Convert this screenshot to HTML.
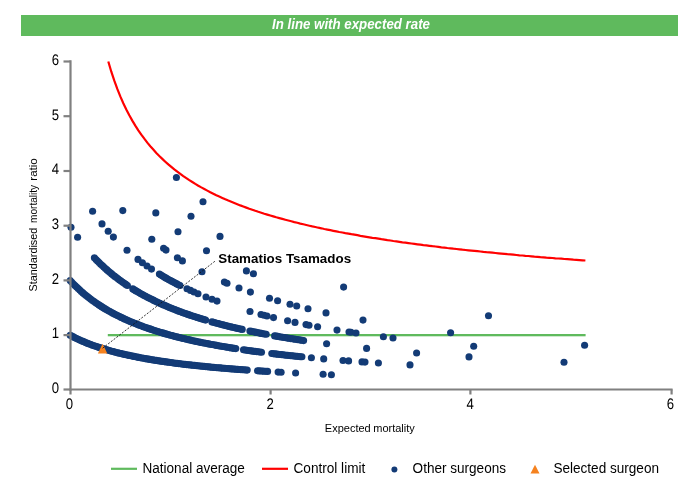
<!DOCTYPE html>
<html><head><meta charset="utf-8"><title>In line with expected rate</title>
<style>
html,body{margin:0;padding:0;background:#fff;}
body{width:700px;height:500px;overflow:hidden;font-family:"Liberation Sans",Arial,sans-serif;}
svg{display:block;}
text{font-family:"Liberation Sans",Arial,sans-serif;fill:#000;}
</style></head><body>
<svg width="700" height="500" viewBox="0 0 700 500">
<rect x="0" y="0" width="700" height="500" fill="#fff"/>
<rect x="21" y="15" width="657" height="21" fill="#5fba5d"/>
<text x="351" y="28.6" text-anchor="middle" font-size="14" font-weight="bold" font-style="italic" style="fill:#fff" textLength="158" lengthAdjust="spacingAndGlyphs">In line with expected rate</text>
<g font-size="15.3" text-rendering="geometricPrecision"><text transform="translate(59.0,393.1) scale(0.86,1)" text-anchor="end">0</text><text transform="translate(59.0,338.4) scale(0.86,1)" text-anchor="end">1</text><text transform="translate(59.0,283.7) scale(0.86,1)" text-anchor="end">2</text><text transform="translate(59.0,229.1) scale(0.86,1)" text-anchor="end">3</text><text transform="translate(59.0,174.4) scale(0.86,1)" text-anchor="end">4</text><text transform="translate(59.0,119.7) scale(0.86,1)" text-anchor="end">5</text><text transform="translate(59.0,65.0) scale(0.86,1)" text-anchor="end">6</text><text transform="translate(69.5,409.3) scale(0.86,1)" text-anchor="middle">0</text><text transform="translate(270.1,409.3) scale(0.86,1)" text-anchor="middle">2</text><text transform="translate(470.1,409.3) scale(0.86,1)" text-anchor="middle">4</text><text transform="translate(670.5,409.3) scale(0.86,1)" text-anchor="middle">6</text></g>
<rect x="107.8" y="334" width="477.8" height="2.3" fill="#5fba5d"/>
<path d="M108.3 61.5 L111.3 71.7 L114.3 80.7 L117.3 88.9 L120.3 96.4 L123.3 103.2 L126.3 109.5 L129.3 115.3 L132.3 120.6 L135.3 125.6 L138.3 130.3 L141.3 134.6 L144.3 138.7 L147.3 142.6 L150.3 146.2 L153.3 149.6 L156.3 152.9 L159.3 156.0 L162.3 158.9 L165.3 161.7 L168.3 164.4 L171.3 166.9 L174.3 169.4 L177.3 171.7 L180.3 173.9 L183.3 176.1 L186.3 178.1 L189.3 180.1 L192.3 182.0 L195.3 183.9 L198.3 185.7 L201.3 187.4 L204.3 189.0 L207.3 190.6 L210.3 192.2 L213.3 193.7 L216.3 195.2 L219.3 196.6 L222.3 197.9 L225.3 199.3 L228.3 200.6 L231.3 201.8 L234.3 203.0 L237.3 204.2 L240.3 205.4 L243.3 206.5 L246.3 207.6 L249.3 208.7 L252.3 209.7 L255.3 210.8 L258.3 211.8 L261.3 212.7 L264.3 213.7 L267.3 214.6 L270.3 215.5 L273.3 216.4 L276.3 217.3 L279.3 218.1 L282.3 218.9 L285.3 219.7 L288.3 220.5 L291.3 221.3 L294.3 222.1 L297.3 222.8 L300.3 223.6 L303.3 224.3 L306.3 225.0 L309.3 225.7 L312.3 226.4 L315.3 227.0 L318.3 227.7 L321.3 228.3 L324.3 229.0 L327.3 229.6 L330.3 230.2 L333.3 230.8 L336.3 231.4 L339.3 232.0 L342.3 232.5 L345.3 233.1 L348.4 233.6 L351.4 234.2 L354.4 234.7 L357.4 235.2 L360.4 235.8 L363.4 236.3 L366.4 236.8 L369.4 237.3 L372.4 237.8 L375.4 238.2 L378.4 238.7 L381.4 239.2 L384.4 239.6 L387.4 240.1 L390.4 240.5 L393.4 241.0 L396.4 241.4 L399.4 241.8 L402.4 242.3 L405.4 242.7 L408.4 243.1 L411.4 243.5 L414.4 243.9 L417.4 244.3 L420.4 244.7 L423.4 245.1 L426.4 245.4 L429.4 245.8 L432.4 246.2 L435.4 246.5 L438.4 246.9 L441.4 247.3 L444.4 247.6 L447.4 248.0 L450.4 248.3 L453.4 248.7 L456.4 249.0 L459.4 249.3 L462.4 249.7 L465.4 250.0 L468.4 250.3 L471.4 250.6 L474.4 250.9 L477.4 251.2 L480.4 251.5 L483.4 251.9 L486.4 252.2 L489.4 252.4 L492.4 252.7 L495.4 253.0 L498.4 253.3 L501.4 253.6 L504.4 253.9 L507.4 254.2 L510.4 254.4 L513.4 254.7 L516.4 255.0 L519.4 255.3 L522.4 255.5 L525.4 255.8 L528.4 256.0 L531.4 256.3 L534.4 256.6 L537.4 256.8 L540.4 257.1 L543.4 257.3 L546.4 257.6 L549.4 257.8 L552.4 258.0 L555.4 258.3 L558.4 258.5 L561.4 258.7 L564.4 259.0 L567.4 259.2 L570.4 259.4 L573.4 259.7 L576.4 259.9 L579.4 260.1 L582.4 260.3 L585.4 260.5" fill="none" stroke="#ff0000" stroke-width="2.2" stroke-linejoin="round"/>
<g fill="#133b76"><circle cx="176.4" cy="177.5" r="3.55"/><circle cx="203.0" cy="201.7" r="3.55"/><circle cx="191.0" cy="216.3" r="3.55"/><circle cx="220.0" cy="236.4" r="3.55"/><circle cx="343.6" cy="287.1" r="3.55"/><circle cx="488.5" cy="315.8" r="3.55"/><circle cx="155.8" cy="212.9" r="3.55"/><circle cx="178.0" cy="231.8" r="3.55"/><circle cx="206.5" cy="250.8" r="3.55"/><circle cx="246.4" cy="270.9" r="3.55"/><circle cx="253.4" cy="273.8" r="3.55"/><circle cx="122.8" cy="210.6" r="3.55"/><circle cx="151.8" cy="239.2" r="3.55"/><circle cx="163.6" cy="248.3" r="3.55"/><circle cx="166.0" cy="250.1" r="3.55"/><circle cx="177.4" cy="257.7" r="3.55"/><circle cx="182.4" cy="260.9" r="3.55"/><circle cx="202.0" cy="271.7" r="3.55"/><circle cx="224.4" cy="282.1" r="3.55"/><circle cx="227.0" cy="283.2" r="3.55"/><circle cx="239.0" cy="288.0" r="3.55"/><circle cx="250.4" cy="292.1" r="3.55"/><circle cx="269.5" cy="298.3" r="3.55"/><circle cx="277.6" cy="300.7" r="3.55"/><circle cx="290.0" cy="304.2" r="3.55"/><circle cx="296.7" cy="306.0" r="3.55"/><circle cx="308.0" cy="308.8" r="3.55"/><circle cx="326.0" cy="312.9" r="3.55"/><circle cx="363.0" cy="320.1" r="3.55"/><circle cx="450.6" cy="332.8" r="3.55"/><circle cx="584.6" cy="345.2" r="3.55"/><circle cx="92.6" cy="211.2" r="3.55"/><circle cx="102.0" cy="223.9" r="3.55"/><circle cx="108.2" cy="231.3" r="3.55"/><circle cx="113.4" cy="237.1" r="3.55"/><circle cx="127.0" cy="250.3" r="3.55"/><circle cx="138.0" cy="259.4" r="3.55"/><circle cx="142.4" cy="262.7" r="3.55"/><circle cx="147.0" cy="266.0" r="3.55"/><circle cx="151.5" cy="269.1" r="3.55"/><circle cx="187.0" cy="288.8" r="3.55"/><circle cx="190.5" cy="290.4" r="3.55"/><circle cx="194.0" cy="292.0" r="3.55"/><circle cx="198.0" cy="293.7" r="3.55"/><circle cx="206.0" cy="297.0" r="3.55"/><circle cx="212.0" cy="299.3" r="3.55"/><circle cx="217.0" cy="301.1" r="3.55"/><circle cx="250.0" cy="311.5" r="3.55"/><circle cx="261.0" cy="314.5" r="3.55"/><circle cx="264.0" cy="315.3" r="3.55"/><circle cx="267.0" cy="316.0" r="3.55"/><circle cx="273.5" cy="317.6" r="3.55"/><circle cx="287.6" cy="320.8" r="3.55"/><circle cx="295.0" cy="322.4" r="3.55"/><circle cx="306.0" cy="324.6" r="3.55"/><circle cx="309.0" cy="325.2" r="3.55"/><circle cx="317.6" cy="326.8" r="3.55"/><circle cx="337.0" cy="330.1" r="3.55"/><circle cx="349.0" cy="332.0" r="3.55"/><circle cx="351.0" cy="332.3" r="3.55"/><circle cx="356.0" cy="333.0" r="3.55"/><circle cx="383.4" cy="336.8" r="3.55"/><circle cx="393.0" cy="338.0" r="3.55"/><circle cx="473.7" cy="346.3" r="3.55"/><circle cx="71.0" cy="227.3" r="3.55"/><circle cx="77.6" cy="237.2" r="3.55"/><circle cx="326.6" cy="343.7" r="3.55"/><circle cx="366.6" cy="348.4" r="3.55"/><circle cx="416.6" cy="353.0" r="3.55"/><circle cx="469.0" cy="356.9" r="3.55"/><circle cx="564.0" cy="362.2" r="3.55"/><circle cx="311.4" cy="357.7" r="3.55"/><circle cx="323.7" cy="358.9" r="3.55"/><circle cx="343.0" cy="360.5" r="3.55"/><circle cx="348.6" cy="360.9" r="3.55"/><circle cx="362.0" cy="361.9" r="3.55"/><circle cx="365.0" cy="362.1" r="3.55"/><circle cx="378.4" cy="363.0" r="3.55"/><circle cx="410.0" cy="364.9" r="3.55"/><circle cx="278.1" cy="372.1" r="3.55"/><circle cx="281.1" cy="372.2" r="3.55"/><circle cx="295.6" cy="373.0" r="3.55"/><circle cx="323.1" cy="374.3" r="3.55"/><circle cx="331.4" cy="374.7" r="3.55"/><circle cx="159.4" cy="274.1" r="3.55"/><circle cx="161.0" cy="275.1" r="3.55"/><circle cx="162.6" cy="276.0" r="3.55"/><circle cx="164.2" cy="277.0" r="3.55"/><circle cx="165.7" cy="277.9" r="3.55"/><circle cx="167.3" cy="278.8" r="3.55"/><circle cx="168.9" cy="279.7" r="3.55"/><circle cx="170.5" cy="280.5" r="3.55"/><circle cx="172.1" cy="281.4" r="3.55"/><circle cx="173.7" cy="282.2" r="3.55"/><circle cx="175.2" cy="283.1" r="3.55"/><circle cx="176.8" cy="283.9" r="3.55"/><circle cx="178.4" cy="284.7" r="3.55"/><circle cx="180.0" cy="285.5" r="3.55"/><circle cx="94.4" cy="257.8" r="3.55"/><circle cx="96.0" cy="259.5" r="3.55"/><circle cx="97.5" cy="261.1" r="3.55"/><circle cx="99.1" cy="262.6" r="3.55"/><circle cx="100.7" cy="264.2" r="3.55"/><circle cx="102.3" cy="265.6" r="3.55"/><circle cx="103.8" cy="267.1" r="3.55"/><circle cx="105.4" cy="268.5" r="3.55"/><circle cx="107.0" cy="269.9" r="3.55"/><circle cx="108.5" cy="271.3" r="3.55"/><circle cx="110.1" cy="272.6" r="3.55"/><circle cx="111.7" cy="273.9" r="3.55"/><circle cx="113.3" cy="275.2" r="3.55"/><circle cx="114.8" cy="276.4" r="3.55"/><circle cx="116.4" cy="277.6" r="3.55"/><circle cx="118.0" cy="278.8" r="3.55"/><circle cx="119.5" cy="280.0" r="3.55"/><circle cx="121.1" cy="281.1" r="3.55"/><circle cx="122.7" cy="282.2" r="3.55"/><circle cx="124.3" cy="283.3" r="3.55"/><circle cx="125.8" cy="284.4" r="3.55"/><circle cx="127.4" cy="285.5" r="3.55"/><circle cx="132.8" cy="288.9" r="3.55"/><circle cx="134.4" cy="289.9" r="3.55"/><circle cx="136.0" cy="290.9" r="3.55"/><circle cx="137.7" cy="291.8" r="3.55"/><circle cx="139.3" cy="292.8" r="3.55"/><circle cx="140.9" cy="293.7" r="3.55"/><circle cx="142.5" cy="294.6" r="3.55"/><circle cx="144.1" cy="295.5" r="3.55"/><circle cx="145.7" cy="296.3" r="3.55"/><circle cx="147.4" cy="297.2" r="3.55"/><circle cx="149.0" cy="298.0" r="3.55"/><circle cx="150.6" cy="298.8" r="3.55"/><circle cx="152.2" cy="299.6" r="3.55"/><circle cx="153.8" cy="300.4" r="3.55"/><circle cx="155.4" cy="301.2" r="3.55"/><circle cx="157.1" cy="302.0" r="3.55"/><circle cx="158.7" cy="302.7" r="3.55"/><circle cx="160.3" cy="303.5" r="3.55"/><circle cx="161.9" cy="304.2" r="3.55"/><circle cx="163.5" cy="304.9" r="3.55"/><circle cx="165.2" cy="305.6" r="3.55"/><circle cx="166.8" cy="306.3" r="3.55"/><circle cx="168.4" cy="307.0" r="3.55"/><circle cx="170.0" cy="307.7" r="3.55"/><circle cx="171.6" cy="308.3" r="3.55"/><circle cx="173.2" cy="309.0" r="3.55"/><circle cx="174.9" cy="309.6" r="3.55"/><circle cx="176.5" cy="310.2" r="3.55"/><circle cx="178.1" cy="310.9" r="3.55"/><circle cx="179.7" cy="311.5" r="3.55"/><circle cx="181.3" cy="312.1" r="3.55"/><circle cx="183.0" cy="312.7" r="3.55"/><circle cx="184.6" cy="313.2" r="3.55"/><circle cx="186.2" cy="313.8" r="3.55"/><circle cx="187.8" cy="314.4" r="3.55"/><circle cx="189.4" cy="314.9" r="3.55"/><circle cx="191.0" cy="315.5" r="3.55"/><circle cx="192.7" cy="316.0" r="3.55"/><circle cx="194.3" cy="316.5" r="3.55"/><circle cx="195.9" cy="317.1" r="3.55"/><circle cx="197.5" cy="317.6" r="3.55"/><circle cx="199.1" cy="318.1" r="3.55"/><circle cx="200.7" cy="318.6" r="3.55"/><circle cx="202.4" cy="319.1" r="3.55"/><circle cx="204.0" cy="319.6" r="3.55"/><circle cx="205.6" cy="320.1" r="3.55"/><circle cx="211.9" cy="321.9" r="3.55"/><circle cx="213.5" cy="322.3" r="3.55"/><circle cx="215.1" cy="322.8" r="3.55"/><circle cx="216.7" cy="323.2" r="3.55"/><circle cx="218.3" cy="323.6" r="3.55"/><circle cx="219.9" cy="324.0" r="3.55"/><circle cx="221.5" cy="324.5" r="3.55"/><circle cx="223.1" cy="324.9" r="3.55"/><circle cx="224.7" cy="325.3" r="3.55"/><circle cx="226.3" cy="325.7" r="3.55"/><circle cx="227.8" cy="326.1" r="3.55"/><circle cx="229.4" cy="326.5" r="3.55"/><circle cx="231.0" cy="326.9" r="3.55"/><circle cx="232.6" cy="327.2" r="3.55"/><circle cx="234.2" cy="327.6" r="3.55"/><circle cx="235.8" cy="328.0" r="3.55"/><circle cx="237.4" cy="328.4" r="3.55"/><circle cx="239.0" cy="328.7" r="3.55"/><circle cx="240.6" cy="329.1" r="3.55"/><circle cx="242.2" cy="329.4" r="3.55"/><circle cx="249.9" cy="331.1" r="3.55"/><circle cx="251.5" cy="331.4" r="3.55"/><circle cx="253.2" cy="331.8" r="3.55"/><circle cx="254.8" cy="332.1" r="3.55"/><circle cx="256.4" cy="332.4" r="3.55"/><circle cx="258.1" cy="332.8" r="3.55"/><circle cx="259.7" cy="333.1" r="3.55"/><circle cx="261.3" cy="333.4" r="3.55"/><circle cx="262.9" cy="333.7" r="3.55"/><circle cx="264.6" cy="334.0" r="3.55"/><circle cx="266.2" cy="334.3" r="3.55"/><circle cx="274.6" cy="335.9" r="3.55"/><circle cx="276.2" cy="336.1" r="3.55"/><circle cx="277.8" cy="336.4" r="3.55"/><circle cx="279.4" cy="336.7" r="3.55"/><circle cx="281.0" cy="337.0" r="3.55"/><circle cx="282.7" cy="337.3" r="3.55"/><circle cx="284.3" cy="337.5" r="3.55"/><circle cx="285.9" cy="337.8" r="3.55"/><circle cx="287.5" cy="338.1" r="3.55"/><circle cx="289.1" cy="338.3" r="3.55"/><circle cx="290.7" cy="338.6" r="3.55"/><circle cx="292.3" cy="338.8" r="3.55"/><circle cx="293.9" cy="339.1" r="3.55"/><circle cx="295.5" cy="339.3" r="3.55"/><circle cx="297.2" cy="339.6" r="3.55"/><circle cx="298.8" cy="339.8" r="3.55"/><circle cx="300.4" cy="340.1" r="3.55"/><circle cx="302.0" cy="340.3" r="3.55"/><circle cx="303.6" cy="340.6" r="3.55"/><circle cx="70.2" cy="280.6" r="3.55"/><circle cx="71.8" cy="282.3" r="3.55"/><circle cx="73.4" cy="284.0" r="3.55"/><circle cx="75.0" cy="285.6" r="3.55"/><circle cx="76.6" cy="287.1" r="3.55"/><circle cx="78.2" cy="288.6" r="3.55"/><circle cx="79.8" cy="290.1" r="3.55"/><circle cx="81.3" cy="291.5" r="3.55"/><circle cx="82.9" cy="292.9" r="3.55"/><circle cx="84.5" cy="294.3" r="3.55"/><circle cx="86.1" cy="295.6" r="3.55"/><circle cx="87.7" cy="296.8" r="3.55"/><circle cx="89.3" cy="298.1" r="3.55"/><circle cx="90.9" cy="299.3" r="3.55"/><circle cx="92.5" cy="300.5" r="3.55"/><circle cx="94.1" cy="301.6" r="3.55"/><circle cx="95.7" cy="302.7" r="3.55"/><circle cx="97.3" cy="303.8" r="3.55"/><circle cx="98.9" cy="304.9" r="3.55"/><circle cx="100.5" cy="305.9" r="3.55"/><circle cx="102.0" cy="306.9" r="3.55"/><circle cx="103.6" cy="307.9" r="3.55"/><circle cx="105.2" cy="308.9" r="3.55"/><circle cx="106.8" cy="309.8" r="3.55"/><circle cx="108.4" cy="310.7" r="3.55"/><circle cx="110.0" cy="311.6" r="3.55"/><circle cx="111.6" cy="312.5" r="3.55"/><circle cx="113.2" cy="313.4" r="3.55"/><circle cx="114.8" cy="314.2" r="3.55"/><circle cx="116.4" cy="315.0" r="3.55"/><circle cx="118.0" cy="315.8" r="3.55"/><circle cx="119.6" cy="316.6" r="3.55"/><circle cx="121.2" cy="317.4" r="3.55"/><circle cx="122.7" cy="318.1" r="3.55"/><circle cx="124.3" cy="318.9" r="3.55"/><circle cx="125.9" cy="319.6" r="3.55"/><circle cx="127.5" cy="320.3" r="3.55"/><circle cx="129.1" cy="321.0" r="3.55"/><circle cx="130.7" cy="321.7" r="3.55"/><circle cx="132.3" cy="322.3" r="3.55"/><circle cx="133.9" cy="323.0" r="3.55"/><circle cx="135.5" cy="323.6" r="3.55"/><circle cx="137.1" cy="324.3" r="3.55"/><circle cx="138.7" cy="324.9" r="3.55"/><circle cx="140.3" cy="325.5" r="3.55"/><circle cx="141.9" cy="326.1" r="3.55"/><circle cx="143.4" cy="326.7" r="3.55"/><circle cx="145.0" cy="327.3" r="3.55"/><circle cx="146.6" cy="327.8" r="3.55"/><circle cx="148.2" cy="328.4" r="3.55"/><circle cx="149.8" cy="328.9" r="3.55"/><circle cx="151.4" cy="329.4" r="3.55"/><circle cx="153.0" cy="330.0" r="3.55"/><circle cx="154.6" cy="330.5" r="3.55"/><circle cx="156.2" cy="331.0" r="3.55"/><circle cx="157.8" cy="331.5" r="3.55"/><circle cx="159.4" cy="332.0" r="3.55"/><circle cx="161.0" cy="332.5" r="3.55"/><circle cx="162.6" cy="332.9" r="3.55"/><circle cx="164.1" cy="333.4" r="3.55"/><circle cx="165.7" cy="333.9" r="3.55"/><circle cx="167.3" cy="334.3" r="3.55"/><circle cx="168.9" cy="334.8" r="3.55"/><circle cx="170.5" cy="335.2" r="3.55"/><circle cx="172.1" cy="335.6" r="3.55"/><circle cx="173.7" cy="336.1" r="3.55"/><circle cx="175.3" cy="336.5" r="3.55"/><circle cx="176.9" cy="336.9" r="3.55"/><circle cx="178.5" cy="337.3" r="3.55"/><circle cx="180.1" cy="337.7" r="3.55"/><circle cx="181.7" cy="338.1" r="3.55"/><circle cx="183.3" cy="338.5" r="3.55"/><circle cx="184.8" cy="338.8" r="3.55"/><circle cx="186.4" cy="339.2" r="3.55"/><circle cx="188.0" cy="339.6" r="3.55"/><circle cx="189.6" cy="339.9" r="3.55"/><circle cx="191.2" cy="340.3" r="3.55"/><circle cx="192.8" cy="340.7" r="3.55"/><circle cx="194.4" cy="341.0" r="3.55"/><circle cx="196.0" cy="341.4" r="3.55"/><circle cx="197.6" cy="341.7" r="3.55"/><circle cx="199.2" cy="342.0" r="3.55"/><circle cx="200.8" cy="342.4" r="3.55"/><circle cx="202.4" cy="342.7" r="3.55"/><circle cx="204.0" cy="343.0" r="3.55"/><circle cx="205.5" cy="343.3" r="3.55"/><circle cx="207.1" cy="343.6" r="3.55"/><circle cx="208.7" cy="343.9" r="3.55"/><circle cx="210.3" cy="344.2" r="3.55"/><circle cx="211.9" cy="344.5" r="3.55"/><circle cx="213.5" cy="344.8" r="3.55"/><circle cx="215.1" cy="345.1" r="3.55"/><circle cx="216.7" cy="345.4" r="3.55"/><circle cx="218.3" cy="345.7" r="3.55"/><circle cx="219.9" cy="346.0" r="3.55"/><circle cx="221.5" cy="346.3" r="3.55"/><circle cx="223.1" cy="346.5" r="3.55"/><circle cx="224.7" cy="346.8" r="3.55"/><circle cx="226.2" cy="347.1" r="3.55"/><circle cx="227.8" cy="347.3" r="3.55"/><circle cx="229.4" cy="347.6" r="3.55"/><circle cx="231.0" cy="347.9" r="3.55"/><circle cx="232.6" cy="348.1" r="3.55"/><circle cx="234.2" cy="348.4" r="3.55"/><circle cx="235.8" cy="348.6" r="3.55"/><circle cx="243.5" cy="349.8" r="3.55"/><circle cx="245.1" cy="350.0" r="3.55"/><circle cx="246.8" cy="350.2" r="3.55"/><circle cx="248.4" cy="350.5" r="3.55"/><circle cx="250.0" cy="350.7" r="3.55"/><circle cx="251.7" cy="350.9" r="3.55"/><circle cx="253.3" cy="351.2" r="3.55"/><circle cx="255.0" cy="351.4" r="3.55"/><circle cx="256.6" cy="351.6" r="3.55"/><circle cx="258.2" cy="351.8" r="3.55"/><circle cx="259.9" cy="352.0" r="3.55"/><circle cx="261.5" cy="352.2" r="3.55"/><circle cx="271.8" cy="353.5" r="3.55"/><circle cx="273.4" cy="353.7" r="3.55"/><circle cx="275.0" cy="353.9" r="3.55"/><circle cx="276.6" cy="354.1" r="3.55"/><circle cx="278.1" cy="354.3" r="3.55"/><circle cx="279.7" cy="354.5" r="3.55"/><circle cx="281.3" cy="354.6" r="3.55"/><circle cx="282.9" cy="354.8" r="3.55"/><circle cx="284.5" cy="355.0" r="3.55"/><circle cx="286.1" cy="355.2" r="3.55"/><circle cx="287.6" cy="355.3" r="3.55"/><circle cx="289.2" cy="355.5" r="3.55"/><circle cx="290.8" cy="355.7" r="3.55"/><circle cx="292.4" cy="355.8" r="3.55"/><circle cx="294.0" cy="356.0" r="3.55"/><circle cx="295.6" cy="356.2" r="3.55"/><circle cx="297.1" cy="356.3" r="3.55"/><circle cx="298.7" cy="356.5" r="3.55"/><circle cx="300.3" cy="356.7" r="3.55"/><circle cx="301.9" cy="356.8" r="3.55"/><circle cx="70.2" cy="335.2" r="3.55"/><circle cx="71.8" cy="336.1" r="3.55"/><circle cx="73.4" cy="336.9" r="3.55"/><circle cx="75.0" cy="337.7" r="3.55"/><circle cx="76.6" cy="338.5" r="3.55"/><circle cx="78.2" cy="339.3" r="3.55"/><circle cx="79.8" cy="340.0" r="3.55"/><circle cx="81.4" cy="340.7" r="3.55"/><circle cx="83.0" cy="341.4" r="3.55"/><circle cx="84.6" cy="342.1" r="3.55"/><circle cx="86.1" cy="342.7" r="3.55"/><circle cx="87.7" cy="343.4" r="3.55"/><circle cx="89.3" cy="344.0" r="3.55"/><circle cx="90.9" cy="344.6" r="3.55"/><circle cx="92.5" cy="345.2" r="3.55"/><circle cx="94.1" cy="345.7" r="3.55"/><circle cx="95.7" cy="346.3" r="3.55"/><circle cx="97.3" cy="346.8" r="3.55"/><circle cx="98.9" cy="347.4" r="3.55"/><circle cx="100.5" cy="347.9" r="3.55"/><circle cx="102.1" cy="348.4" r="3.55"/><circle cx="103.7" cy="348.9" r="3.55"/><circle cx="105.3" cy="349.4" r="3.55"/><circle cx="106.9" cy="349.8" r="3.55"/><circle cx="108.5" cy="350.3" r="3.55"/><circle cx="110.1" cy="350.8" r="3.55"/><circle cx="111.7" cy="351.2" r="3.55"/><circle cx="113.3" cy="351.6" r="3.55"/><circle cx="114.8" cy="352.0" r="3.55"/><circle cx="116.4" cy="352.5" r="3.55"/><circle cx="118.0" cy="352.9" r="3.55"/><circle cx="119.6" cy="353.2" r="3.55"/><circle cx="121.2" cy="353.6" r="3.55"/><circle cx="122.8" cy="354.0" r="3.55"/><circle cx="124.4" cy="354.4" r="3.55"/><circle cx="126.0" cy="354.7" r="3.55"/><circle cx="127.6" cy="355.1" r="3.55"/><circle cx="129.2" cy="355.4" r="3.55"/><circle cx="130.8" cy="355.8" r="3.55"/><circle cx="132.4" cy="356.1" r="3.55"/><circle cx="134.0" cy="356.4" r="3.55"/><circle cx="135.6" cy="356.8" r="3.55"/><circle cx="137.2" cy="357.1" r="3.55"/><circle cx="138.8" cy="357.4" r="3.55"/><circle cx="140.4" cy="357.7" r="3.55"/><circle cx="142.0" cy="358.0" r="3.55"/><circle cx="143.6" cy="358.3" r="3.55"/><circle cx="145.1" cy="358.6" r="3.55"/><circle cx="146.7" cy="358.9" r="3.55"/><circle cx="148.3" cy="359.1" r="3.55"/><circle cx="149.9" cy="359.4" r="3.55"/><circle cx="151.5" cy="359.7" r="3.55"/><circle cx="153.1" cy="359.9" r="3.55"/><circle cx="154.7" cy="360.2" r="3.55"/><circle cx="156.3" cy="360.4" r="3.55"/><circle cx="157.9" cy="360.7" r="3.55"/><circle cx="159.5" cy="360.9" r="3.55"/><circle cx="161.1" cy="361.2" r="3.55"/><circle cx="162.7" cy="361.4" r="3.55"/><circle cx="164.3" cy="361.6" r="3.55"/><circle cx="165.9" cy="361.9" r="3.55"/><circle cx="167.5" cy="362.1" r="3.55"/><circle cx="169.1" cy="362.3" r="3.55"/><circle cx="170.7" cy="362.5" r="3.55"/><circle cx="172.3" cy="362.8" r="3.55"/><circle cx="173.8" cy="363.0" r="3.55"/><circle cx="175.4" cy="363.2" r="3.55"/><circle cx="177.0" cy="363.4" r="3.55"/><circle cx="178.6" cy="363.6" r="3.55"/><circle cx="180.2" cy="363.8" r="3.55"/><circle cx="181.8" cy="364.0" r="3.55"/><circle cx="183.4" cy="364.2" r="3.55"/><circle cx="185.0" cy="364.4" r="3.55"/><circle cx="186.6" cy="364.6" r="3.55"/><circle cx="188.2" cy="364.7" r="3.55"/><circle cx="189.8" cy="364.9" r="3.55"/><circle cx="191.4" cy="365.1" r="3.55"/><circle cx="193.0" cy="365.3" r="3.55"/><circle cx="194.6" cy="365.4" r="3.55"/><circle cx="196.2" cy="365.6" r="3.55"/><circle cx="197.8" cy="365.8" r="3.55"/><circle cx="199.4" cy="366.0" r="3.55"/><circle cx="201.0" cy="366.1" r="3.55"/><circle cx="202.6" cy="366.3" r="3.55"/><circle cx="204.1" cy="366.4" r="3.55"/><circle cx="205.7" cy="366.6" r="3.55"/><circle cx="207.3" cy="366.8" r="3.55"/><circle cx="208.9" cy="366.9" r="3.55"/><circle cx="210.5" cy="367.1" r="3.55"/><circle cx="212.1" cy="367.2" r="3.55"/><circle cx="213.7" cy="367.4" r="3.55"/><circle cx="215.3" cy="367.5" r="3.55"/><circle cx="216.9" cy="367.7" r="3.55"/><circle cx="218.5" cy="367.8" r="3.55"/><circle cx="220.1" cy="367.9" r="3.55"/><circle cx="221.7" cy="368.1" r="3.55"/><circle cx="223.3" cy="368.2" r="3.55"/><circle cx="224.9" cy="368.3" r="3.55"/><circle cx="226.5" cy="368.5" r="3.55"/><circle cx="228.1" cy="368.6" r="3.55"/><circle cx="229.7" cy="368.7" r="3.55"/><circle cx="231.3" cy="368.9" r="3.55"/><circle cx="232.8" cy="369.0" r="3.55"/><circle cx="234.4" cy="369.1" r="3.55"/><circle cx="236.0" cy="369.2" r="3.55"/><circle cx="237.6" cy="369.4" r="3.55"/><circle cx="239.2" cy="369.5" r="3.55"/><circle cx="240.8" cy="369.6" r="3.55"/><circle cx="242.4" cy="369.7" r="3.55"/><circle cx="244.0" cy="369.8" r="3.55"/><circle cx="245.6" cy="370.0" r="3.55"/><circle cx="247.2" cy="370.1" r="3.55"/><circle cx="257.5" cy="370.8" r="3.55"/><circle cx="259.2" cy="370.9" r="3.55"/><circle cx="260.9" cy="371.0" r="3.55"/><circle cx="262.6" cy="371.1" r="3.55"/><circle cx="264.2" cy="371.2" r="3.55"/><circle cx="265.9" cy="371.3" r="3.55"/><circle cx="267.6" cy="371.4" r="3.55"/></g>
<g stroke="#808080" stroke-width="2.2" fill="none">
<line x1="70.5" y1="60.3" x2="70.5" y2="390.6"/>
<line x1="69.4" y1="389.5" x2="672.6" y2="389.5"/>
<line x1="63.5" y1="389.5" x2="70.5" y2="389.5"/><line x1="63.5" y1="335.1" x2="70.5" y2="335.1"/><line x1="63.5" y1="280.4" x2="70.5" y2="280.4"/><line x1="63.5" y1="225.7" x2="70.5" y2="225.7"/><line x1="63.5" y1="171.0" x2="70.5" y2="171.0"/><line x1="63.5" y1="116.2" x2="70.5" y2="116.2"/><line x1="63.5" y1="61.5" x2="70.5" y2="61.5"/><line x1="70.5" y1="389.5" x2="70.5" y2="394.5"/><line x1="270.6" y1="389.5" x2="270.6" y2="394.5"/><line x1="470.4" y1="389.5" x2="470.4" y2="394.5"/><line x1="671.6" y1="389.5" x2="671.6" y2="394.5"/>
</g>
<polygon points="102.6,343.8 107.3,353.4 97.89999999999999,353.4" fill="#f5821f"/>
<line x1="102.6" y1="348.2" x2="216" y2="260.4" stroke="#111" stroke-width="0.85" stroke-dasharray="2 1.5"/>
<text x="218.3" y="262.6" font-size="13.6" font-weight="bold" textLength="132.8" lengthAdjust="spacingAndGlyphs">Stamatios Tsamados</text>
<text y="432.3" font-size="11.8"><tspan x="324.8" textLength="45.9" lengthAdjust="spacingAndGlyphs">Expected</tspan> <tspan x="373.3" textLength="41.5" lengthAdjust="spacingAndGlyphs">mortality</tspan></text>
<text transform="translate(37.2,224.5) rotate(-90)" font-size="11.8"><tspan x="-67.1" textLength="63.9" lengthAdjust="spacingAndGlyphs">Standardised</tspan> <tspan x="1.6" textLength="38" lengthAdjust="spacingAndGlyphs">mortality</tspan> <tspan x="43.8" textLength="22.5" lengthAdjust="spacingAndGlyphs">ratio</tspan></text>
<g font-size="14">
<line x1="111" y1="468.8" x2="137" y2="468.8" stroke="#5fba5d" stroke-width="2.2"/>
<text x="142.5" y="473" textLength="102.4" lengthAdjust="spacingAndGlyphs">National average</text>
<line x1="262" y1="468.8" x2="288" y2="468.8" stroke="#ff0000" stroke-width="2.2"/>
<text x="293.5" y="473" textLength="71.8" lengthAdjust="spacingAndGlyphs">Control limit</text>
<circle cx="394.4" cy="469.5" r="3" fill="#133b76"/>
<text x="412.6" y="473" textLength="93.4" lengthAdjust="spacingAndGlyphs">Other surgeons</text>
<polygon points="535,464.8 539.5,473.4 530.5,473.4" fill="#f5821f"/>
<text x="553.4" y="473" textLength="105.6" lengthAdjust="spacingAndGlyphs">Selected surgeon</text>
</g>
</svg>
</body></html>
